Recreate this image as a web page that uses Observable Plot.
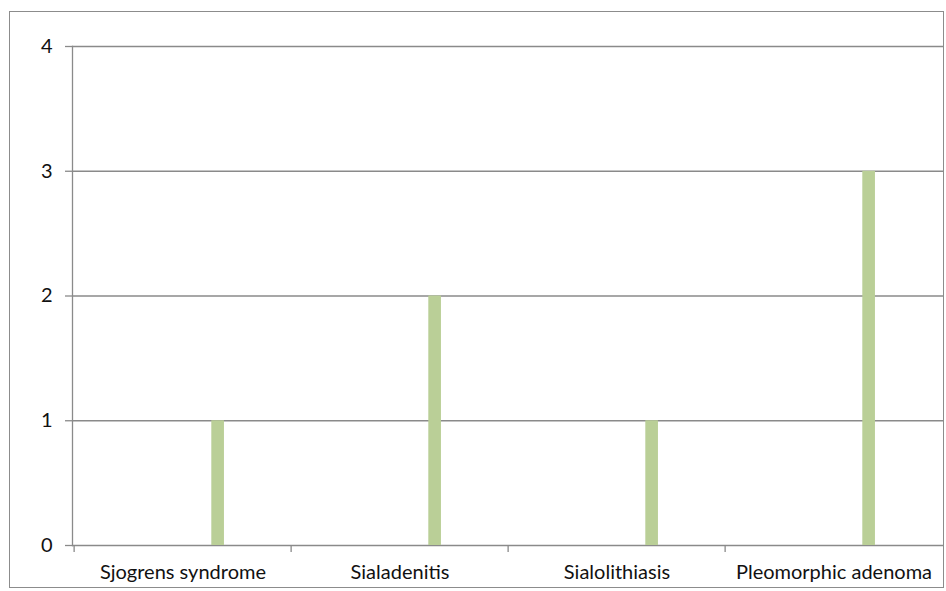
<!DOCTYPE html>
<html>
<head>
<meta charset="utf-8">
<script src="https://cdn.jsdelivr.net/npm/d3@7"></script>
<script src="https://cdn.jsdelivr.net/npm/@observablehq/plot@0.6"></script>
<style>
  html, body { margin: 0; padding: 0; background: #fff; }
  #wrap { position: relative; width: 946px; height: 591px; }
  #border {
    position: absolute; left: 9px; top: 11px; width: 933px; height: 575px;
    border: 1.5px solid #8c8c8c; pointer-events: none;
  }
</style>
</head>
<body>
<div id="wrap"><div id="border"></div></div>
<script>
// Cases per diagnosis
const categories = ["Sjogrens syndrome", "Sialadenitis", "Sialolithiasis", "Pleomorphic adenoma"];
const counts = [1, 2, 1, 3];
const yTicks = [0, 1, 2, 3, 4];

const data = categories.map((c, i) => ({category: c, count: counts[i]}));

const width = 946, height = 591;
const marginLeft = 72, marginRight = 3, marginTop = 46, marginBottom = 46;
const band = (width - marginLeft - marginRight) / categories.length;
const gridColor = "#8a8a8a";
const fontSize = 20;

const chart = Plot.plot({
  width, height, marginLeft, marginRight, marginTop, marginBottom,
  style: {fontFamily: "Lato, 'Open Sans', sans-serif", fontSize: `${fontSize}px`, color: "#111", background: "transparent"},
  x: {domain: categories, padding: 0, label: null},
  y: {domain: [0, 4], ticks: yTicks, label: null},
  marks: [
    Plot.gridY(yTicks, {stroke: gridColor, strokeOpacity: 1, strokeWidth: 1.3}),
    Plot.axisY(yTicks, {tickSize: 7, tickPadding: 13, stroke: gridColor, strokeWidth: 1.3, tickFormat: d3.format("d"), fontSize}),
    // category separators below the baseline
    Plot.axisX(categories, {tickSize: 7, stroke: gridColor, strokeWidth: 1.3, text: null, dx: -band / 2}),
    Plot.axisX({tickSize: 0, tickPadding: 19, fontSize}),
    Plot.frame({anchor: "left", stroke: gridColor, strokeWidth: 1.3}),
    Plot.barY(data, {x: "category", y: "count", fill: "#bacf97", insetLeft: 137.3, insetRight: band - 150.7})
  ]
});
document.getElementById("wrap").prepend(chart);
</script>
</body>
</html>
